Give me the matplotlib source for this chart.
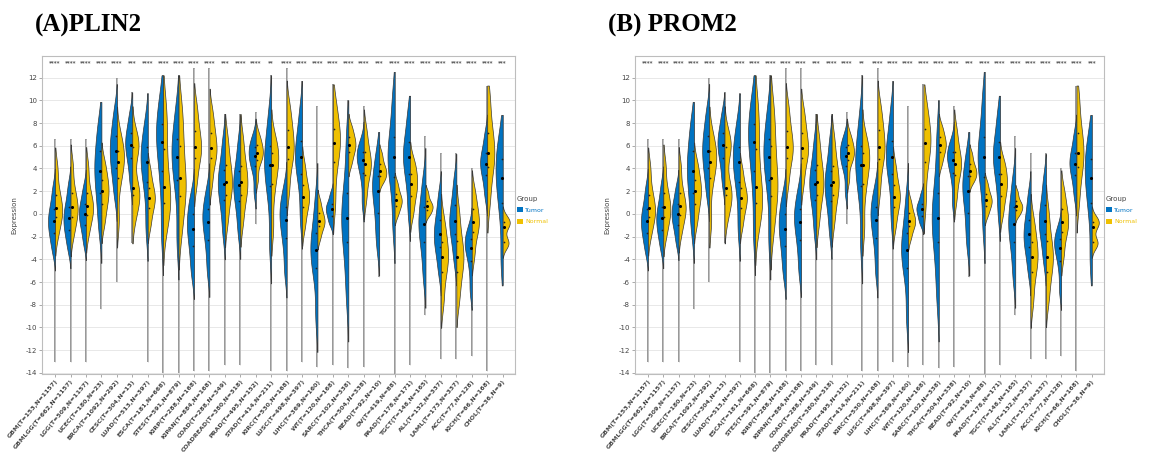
import numpy as np
import matplotlib
matplotlib.use("Agg")
import matplotlib.pyplot as plt
from matplotlib import mlab
from matplotlib.patches import Patch

# pan-cancer expression, tumor vs normal (log2 scale)
cancers = ["GBM", "GBMLGG", "LGG", "UCEC", "BRCA", "CESC", "LUAD", "ESCA", "STES", "KIRP",
           "KIPAN", "COAD", "COADREAD", "PRAD", "STAD", "KIRC", "LUSC", "LIHC", "WT", "SARC",
           "THCA", "READ", "OV", "PAAD", "TGCT", "ALL", "LAML", "ACC", "KICH", "CHOL"]
n_tumor = [153, 662, 509, 180, 1092, 304, 513, 181, 591, 288,
           884, 288, 380, 495, 414, 530, 498, 369, 120, 102,
           504, 92, 419, 178, 148, 132, 173, 77, 66, 36]
n_normal = [1157, 1157, 1157, 23, 292, 13, 397, 668, 879, 168,
            168, 349, 318, 152, 211, 168, 397, 160, 168, 338,
            338, 10, 88, 171, 165, 337, 337, 128, 168, 9]
signif = ["****", "****", "****", "****", "****", "***", "****", "****", "****", "****",
          "****", "***", "****", "****", "**", "****", "****", "****", "****", "****",
          "****", "***", "****", "****", "****", "****", "****", "****", "****", "***"]

tumor_vals = [
    [-3.2, -2.0, -1.3, -0.6, 0.0, 0.8, 2.2],
    [-3.0, -1.8, -1.1, -0.4, 0.2, 1.0, 2.4],
    [-2.5, -1.3, -0.6, 0.0, 0.5, 1.2, 2.3],
    [-1.2, 1.0, 2.6, 3.8, 4.8, 6.2, 8.0],
    [1.8, 3.5, 4.6, 5.5, 6.4, 7.4, 9.0],
    [2.8, 4.4, 5.4, 6.1, 6.7, 7.5, 8.8],
    [-1.2, 2.0, 3.6, 4.6, 5.4, 6.4, 8.0],
    [-1.6, 2.5, 5.0, 6.3, 7.3, 8.5, 10.2],
    [-2.2, 2.0, 4.0, 5.0, 6.0, 7.2, 9.2],
    [-5.2, -3.5, -2.2, -1.3, -0.5, 0.4, 1.6],
    [-5.0, -3.0, -1.6, -0.7, 0.0, 0.8, 2.1],
    [-1.5, 0.6, 1.8, 2.6, 3.4, 4.4, 6.3],
    [-1.5, 0.5, 1.7, 2.5, 3.3, 4.3, 6.2],
    [2.0, 3.8, 4.6, 5.1, 5.6, 6.1, 6.8],
    [-2.6, 1.5, 3.4, 4.3, 5.3, 6.6, 8.8],
    [-5.0, -2.8, -1.4, -0.5, 0.2, 1.0, 2.2],
    [-0.2, 2.8, 4.2, 5.0, 5.9, 7.0, 9.0],
    [-9.0, -5.5, -4.0, -3.2, -2.3, -1.0, 1.3],
    [-0.9, -0.4, 0.1, 0.4, 0.7, 1.1, 1.8],
    [-7.0, -3.5, -1.5, -0.4, 0.8, 2.8, 6.6],
    [1.0, 3.0, 4.2, 4.7, 5.2, 5.7, 6.3],
    [-2.7, -0.8, 1.0, 2.0, 2.8, 3.8, 5.4],
    [-0.9, 2.5, 4.0, 5.0, 6.0, 7.5, 10.2],
    [0.3, 2.8, 4.2, 5.0, 5.8, 6.9, 8.8],
    [-5.5, -3.2, -1.8, -0.9, 0.0, 1.2, 3.0],
    [-5.0, -3.4, -2.5, -1.8, -1.0, 0.0, 1.6],
    [-4.0, -2.3, -1.3, -0.6, 0.2, 1.3, 3.0],
    [-6.7, -4.8, -3.5, -3.0, -2.5, -1.9, -1.3],
    [1.6, 3.0, 3.9, 4.4, 5.0, 5.7, 7.0],
    [-4.0, 0.0, 2.0, 3.2, 4.2, 5.4, 6.8],
]
normal_vals = [
    [-1.8, -0.6, 0.0, 0.5, 1.2, 2.2, 4.0],
    [-1.8, -0.6, 0.1, 0.6, 1.3, 2.3, 4.2],
    [-1.6, -0.4, 0.2, 0.7, 1.3, 2.3, 4.1],
    [-0.8, 0.5, 1.3, 2.0, 2.6, 3.4, 4.5],
    [-0.6, 2.5, 3.9, 4.6, 5.2, 5.9, 7.0],
    [-0.1, 1.4, 1.9, 2.3, 5.6, 6.1, 6.6],
    [-1.0, 0.2, 0.9, 1.4, 1.9, 2.6, 3.8],
    [-0.8, 0.5, 1.5, 2.4, 4.5, 7.0, 9.3],
    [-1.3, 1.0, 2.2, 3.2, 5.0, 7.0, 9.3],
    [2.8, 4.5, 5.4, 5.9, 6.8, 7.8, 9.4],
    [2.8, 4.5, 5.3, 5.8, 6.7, 7.6, 9.0],
    [-0.6, 1.2, 2.2, 2.8, 3.8, 4.8, 6.6],
    [-0.6, 1.2, 2.1, 2.8, 3.7, 4.7, 6.5],
    [3.1, 4.5, 5.0, 5.4, 5.8, 6.3, 7.0],
    [-1.2, 1.8, 3.4, 4.3, 5.0, 5.8, 6.5],
    [2.2, 4.3, 5.3, 5.9, 6.9, 7.9, 9.4],
    [-1.1, 0.2, 1.0, 1.5, 2.1, 2.9, 4.2],
    [-2.1, -1.3, -0.9, -0.6, -0.2, 0.3, 1.1],
    [1.0, 3.8, 5.4, 6.2, 7.0, 8.0, 9.6],
    [4.4, 5.2, 5.7, 6.1, 6.5, 7.0, 7.7],
    [1.4, 3.0, 3.9, 4.4, 5.0, 5.9, 7.3],
    [2.8, 3.2, 3.5, 3.8, 4.1, 4.6, 5.3],
    [-0.1, 0.5, 0.9, 1.2, 1.5, 2.0, 2.7],
    [0.0, 1.2, 2.0, 2.6, 3.2, 3.9, 4.7],
    [-0.1, 0.2, 0.5, 0.7, 0.9, 1.3, 1.9],
    [-7.7, -5.7, -4.5, -3.8, -3.0, -2.0, -0.6],
    [-7.5, -5.7, -4.5, -3.8, -3.0, -1.8, 0.1],
    [-3.6, -2.0, -1.2, -0.7, 0.0, 0.8, 2.0],
    [1.2, 3.5, 4.7, 5.4, 6.5, 7.8, 10.2],
    [-2.8, -2.6, -2.3, -1.2, -0.9, -0.6, -0.4],
]
# full range of values per cancer (thin tails)
tail_top = [6.6, 6.6, 6.6, 9.85, 12.0, 10.7, 10.6, 12.2, 12.2, 12.8,
            12.8, 8.8, 8.8, 9.0, 12.2, 12.8, 11.7, 9.5, 11.4, 10.0,
            9.5, 7.2, 12.5, 10.4, 6.9, 5.4, 5.4, 4.0, 11.3, 8.7]
tail_bottom = [-13.0, -13.0, -13.0, -8.4, -6.0, -2.6, -13.0, -14.0, -14.0, -13.8,
               -13.8, -13.3, -13.3, -0.9, -13.8, -13.8, -13.0, -13.5, -13.3, -13.6,
               -13.5, -5.6, -14.1, -13.3, -8.9, -12.8, -12.8, -12.5, -13.8, -6.3]

BLUE = "#0073C2"
YELLOW = "#EFC000"
TXT = "#444444"


def half_violin(ax, x, vals, lo, hi, side, color):
    vals = np.asarray(vals, dtype=float)
    kde = mlab.GaussianKDE(vals, 0.5)
    yy = np.linspace(lo, hi, 600)
    d = kde.evaluate(yy)
    w = d / d.max() * 0.46
    keep = w > 0.02
    yy, w = yy[keep], w[keep]
    ax.fill_betweenx(yy, x, x + side * w, facecolor=color, edgecolor="#3a3a3a",
                     linewidth=0.5, zorder=3)
    q1, med, q3 = np.percentile(vals, [25, 50, 75])
    ax.scatter([x + side * 0.07], [med], s=5, color="black", zorder=5, linewidths=0)
    ax.scatter([x + side * 0.07] * 2, [q1, q3], s=1.5, color="#222222", zorder=5, linewidths=0)


def draw_panel(ax):
    pos = np.arange(len(cancers))
    ax.vlines(pos, tail_bottom, tail_top, color="#8f8f8f", linewidth=1.3, zorder=2)
    ax.vlines(pos, tail_bottom, tail_top, color="#d0d0d0", linewidth=0.5, zorder=2)
    for i in pos:
        half_violin(ax, i, tumor_vals[i], tail_bottom[i], tail_top[i], -1, BLUE)
        half_violin(ax, i, normal_vals[i], tail_bottom[i], tail_top[i], 1, YELLOW)
        ax.text(i, 13.35, signif[i], ha="center", va="center", fontsize=4,
                color="#555555", fontweight="bold")

    ax.set_xlim(-0.85, 29.8)
    ax.set_ylim(-14.1, 13.9)
    ax.set_yticks(np.arange(-14, 13, 2))
    ax.set_yticklabels([str(v) for v in range(-14, 13, 2)], fontsize=5, color=TXT)
    ax.set_xticks(pos)
    labels = [f"{c}(T={t},N={n})" for c, t, n in zip(cancers, n_tumor, n_normal)]
    ax.set_xticklabels(labels, rotation=50, ha="right", rotation_mode="anchor",
                       fontsize=4.5, fontweight="bold", color=TXT)
    ax.tick_params(axis="both", length=2, width=0.5, color="#888888", pad=1.5)
    ax.set_ylabel("Expression", fontsize=5, color=TXT, labelpad=6)
    ax.yaxis.grid(True, color="#e4e4e4", linewidth=0.6)
    ax.set_axisbelow(True)
    for sp in ax.spines.values():
        sp.set_color("#bdbdbd")
        sp.set_linewidth(0.8)

    handles = [Patch(facecolor=BLUE, edgecolor="none", label="Tumor"),
               Patch(facecolor=YELLOW, edgecolor="none", label="Normal")]
    leg = ax.legend(handles=handles, title="Group", loc="upper left",
                    bbox_to_anchor=(0.995, 0.575), frameon=False, fontsize=4.5,
                    title_fontsize=5, handlelength=0.9, handleheight=0.9,
                    handletextpad=0.4, labelspacing=0.9, borderaxespad=0.3)
    leg.get_title().set_color(TXT)
    leg._legend_box.align = "left"
    leg.get_texts()[0].set_color(BLUE)
    leg.get_texts()[1].set_color(YELLOW)


fig = plt.figure(figsize=(11.49, 4.54), dpi=100)
ax_a = fig.add_axes([42 / 1149, 1 - 374 / 454, 473 / 1149, 318 / 454])
ax_b = fig.add_axes([635 / 1149, 1 - 374 / 454, 469 / 1149, 318 / 454])
draw_panel(ax_a)
draw_panel(ax_b)

fig.text(35 / 1149, 1 - 32 / 454, "(A)PLIN2", fontsize=18, fontweight="bold",
         family="Liberation Serif", va="baseline", ha="left")
fig.text(608 / 1149, 1 - 32 / 454, "(B) PROM2", fontsize=18, fontweight="bold",
         family="Liberation Serif", va="baseline", ha="left")

fig.savefig("out.png", dpi=100)
